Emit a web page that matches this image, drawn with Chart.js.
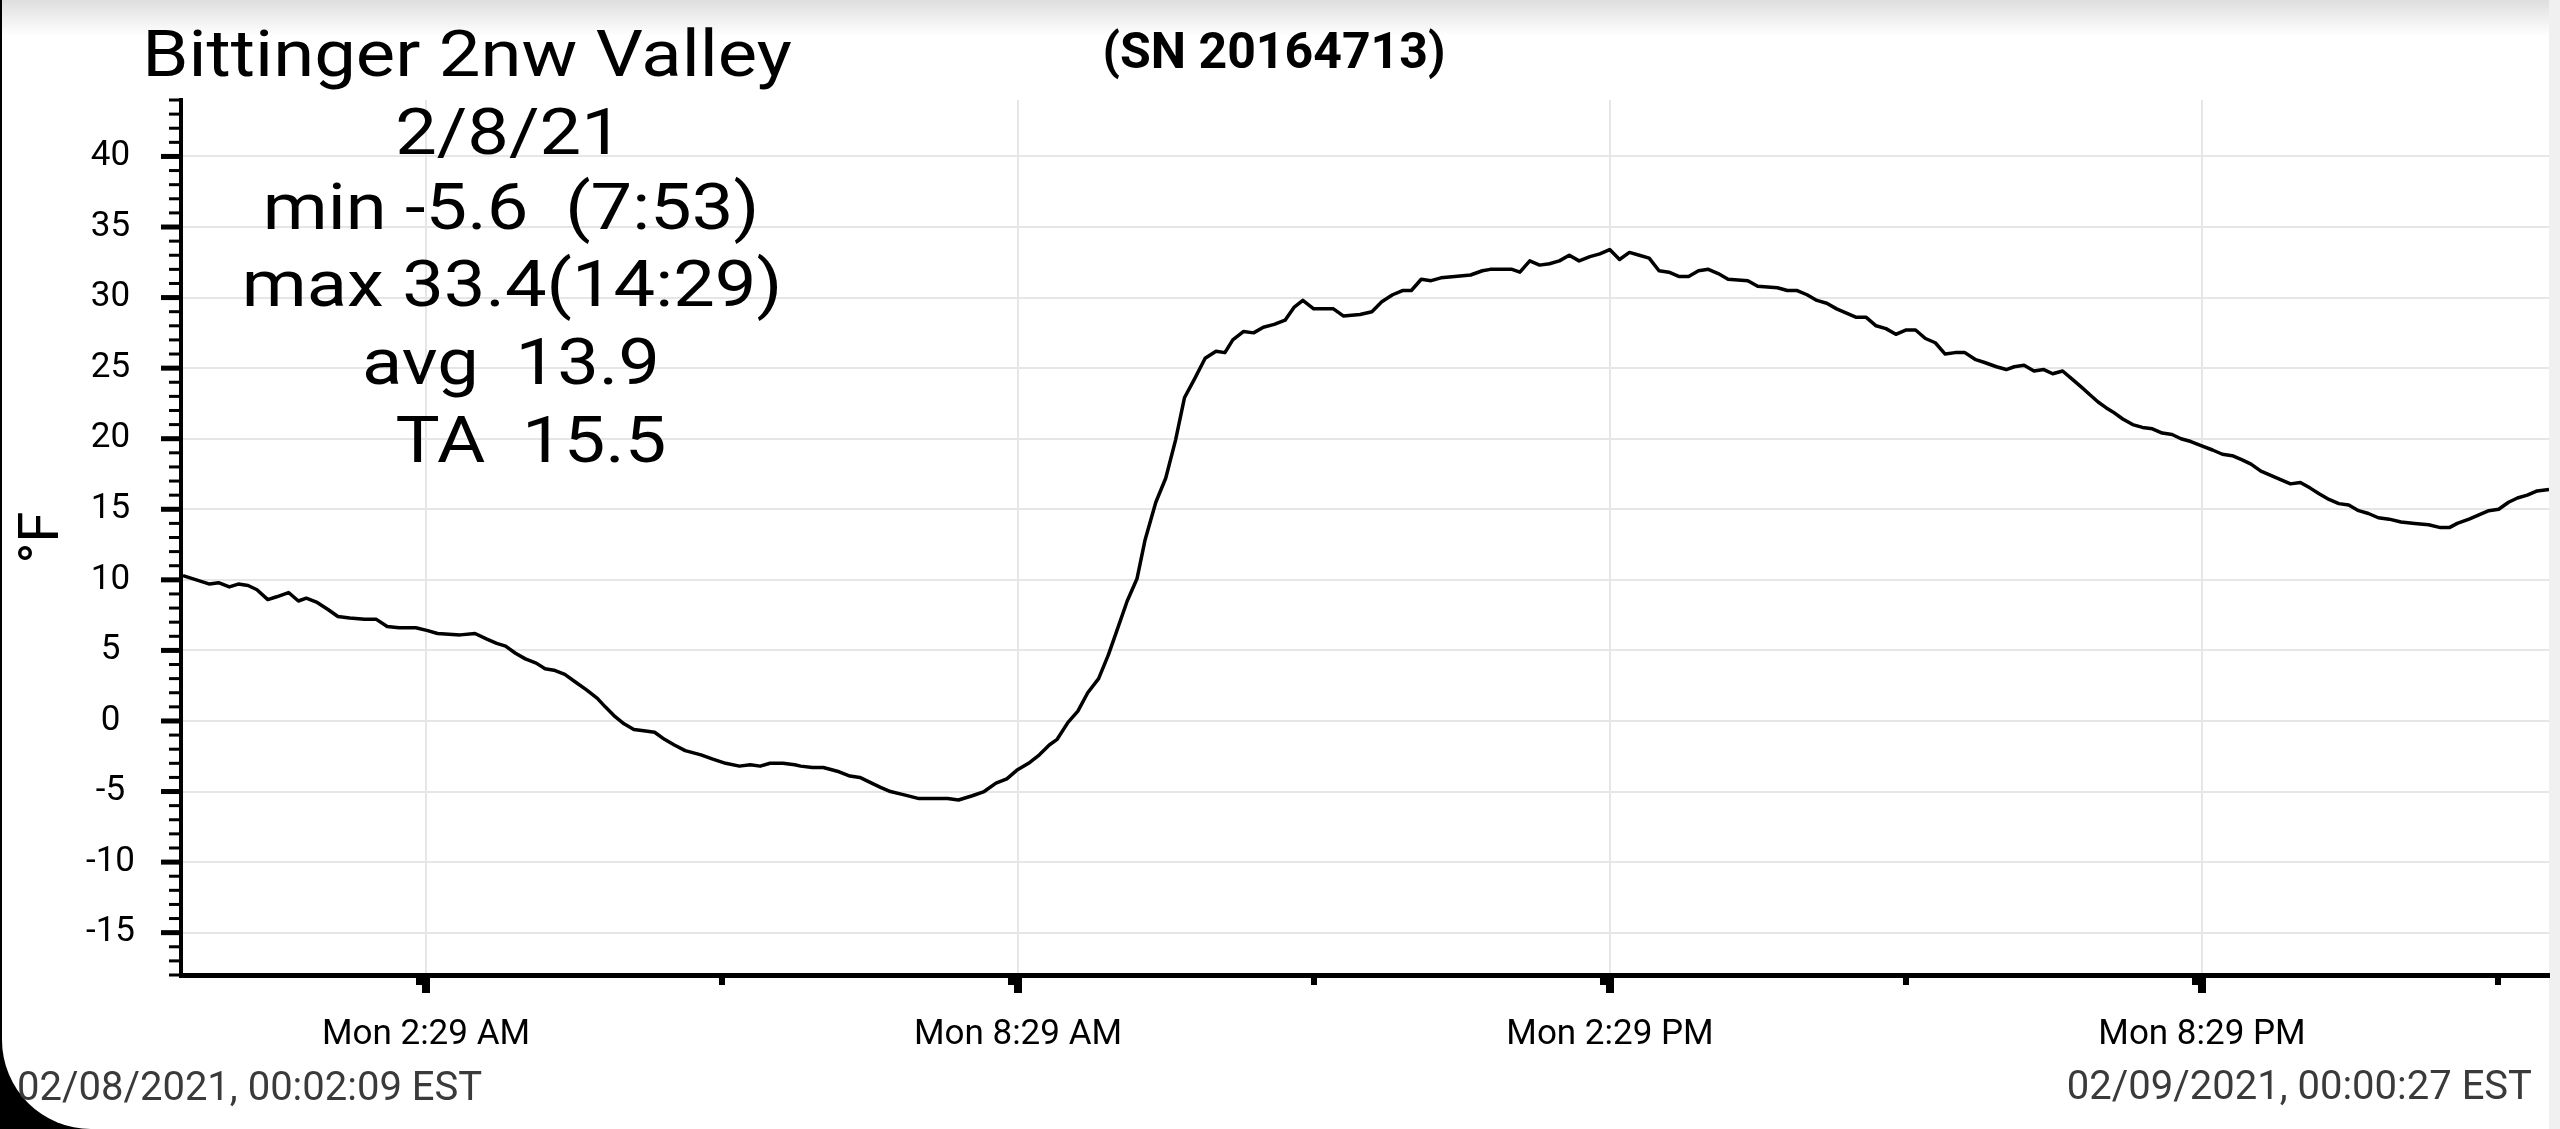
<!DOCTYPE html>
<html>
<head>
<meta charset="utf-8">
<script src="https://cdn.jsdelivr.net/npm/chart.js@4.4.1/dist/chart.umd.min.js"></script>
<style>
  html, body { margin:0; padding:0; }
  body { width:2560px; height:1129px; overflow:hidden; background:#000; position:relative; font-family:Roboto, sans-serif; }
  #panel { position:absolute; left:2px; top:0; width:2558px; height:1129px; background:#fff; border-bottom-left-radius:89px; }
  #shade { position:absolute; left:2px; top:0; width:2558px; height:36px; background:linear-gradient(#dedede, #ffffff); }
  #strip { position:absolute; left:2549px; top:0; width:11px; height:1129px; background:#f0f0f0; }
  canvas { position:absolute; left:0; top:0; }
  .t { position:absolute; white-space:pre; line-height:1; color:#000; font-family:Roboto, sans-serif; }
</style>
</head>
<body>
<div id="panel"></div>
<div id="shade"></div>
<div id="strip"></div>
<canvas id="c" width="2560" height="1129"></canvas>
<div id="texts"></div>
<script>
// ---- data (hours since midnight, Mon 2/8/21; temperature °F) ----
const hours = [0.02,0.29,0.38,0.49,0.58,0.68,0.77,0.88,0.97,1.09,1.19,1.27,1.38,1.49,1.59,1.71,1.86,1.98,2.09,2.21,2.38,2.50,2.60,2.83,2.98,3.10,3.20,3.29,3.39,3.49,3.60,3.69,3.78,3.89,3.99,4.11,4.22,4.30,4.40,4.49,4.59,4.69,4.80,4.90,5.00,5.11,5.27,5.39,5.52,5.66,5.77,5.87,5.97,6.10,6.22,
  6.28,6.40,6.51,6.67,6.78,6.88,7.00,7.09,7.19,7.31,7.48,7.60,7.77,7.88,8.02,8.14,8.26,8.37,8.47,8.59,8.70,8.80,8.88,8.99,9.09,9.19,9.30,9.40,9.48,9.59,9.69,9.77,9.88,9.98,10.08,10.17,10.27,10.38,10.49,10.58,10.66,10.77,10.87,10.97,11.08,11.19,11.28,11.37,11.48,11.57,11.68,11.78,11.95,12.07,12.17,12.28,12.38,12.47,
  12.57,12.67,12.77,12.91,13.07,13.19,13.27,13.49,13.57,13.67,13.77,13.87,13.97,14.07,14.17,14.28,14.38,14.48,14.58,14.68,14.78,14.88,14.98,15.08,15.18,15.28,15.38,15.48,15.58,15.68,15.88,15.98,16.18,16.28,16.38,16.48,16.58,16.68,16.78,16.88,16.98,17.08,17.18,17.28,17.38,17.48,17.58,17.68,17.78,17.88,17.98,
  18.08,18.19,18.28,18.40,18.50,18.58,18.68,18.78,18.88,18.97,19.07,19.17,19.27,19.35,19.43,19.51,19.58,19.68,19.78,19.88,19.98,20.08,20.18,20.27,20.37,20.48,20.59,20.69,20.79,20.89,20.98,21.08,21.18,21.28,21.38,21.48,21.58,21.67,21.77,21.87,21.97,22.07,22.17,22.27,22.38,22.50,22.64,22.78,22.90,22.99,23.07,23.19,23.29,23.39,23.49,23.59,23.68,23.78,23.88,24.00];
const tempF = [10.3,9.7,9.8,9.5,9.7,9.6,9.3,8.6,8.8,9.1,8.5,8.7,8.4,7.9,7.4,7.3,7.2,7.2,6.7,6.6,6.6,6.4,6.2,6.1,6.2,5.8,5.5,5.3,4.8,4.4,4.1,3.7,3.6,3.3,2.8,2.2,1.6,1.0,0.3,-0.2,-0.6,-0.7,-0.8,-1.3,-1.7,-2.1,-2.4,-2.7,-3.0,-3.2,-3.1,-3.2,-3.0,-3.0,-3.1,
  -3.2,-3.3,-3.3,-3.6,-3.9,-4.0,-4.4,-4.7,-5.0,-5.2,-5.5,-5.5,-5.5,-5.6,-5.3,-5.0,-4.4,-4.1,-3.5,-3.0,-2.4,-1.7,-1.3,-0.1,0.7,2.0,3.0,4.7,6.3,8.5,10.1,12.8,15.5,17.2,19.9,22.9,24.2,25.7,26.2,26.1,27.0,27.6,27.5,27.9,28.1,28.4,29.3,29.8,29.2,29.2,29.2,28.7,28.8,29.0,29.7,30.2,30.5,30.5,
  31.3,31.2,31.4,31.5,31.6,31.9,32.0,32.0,31.8,32.6,32.3,32.4,32.6,33.0,32.6,32.9,33.1,33.4,32.7,33.2,33.0,32.8,31.9,31.8,31.5,31.5,31.9,32.0,31.7,31.3,31.2,30.8,30.7,30.5,30.5,30.2,29.8,29.6,29.2,28.9,28.6,28.6,28.0,27.8,27.4,27.7,27.7,27.1,26.8,26.0,26.1,
  26.1,25.6,25.4,25.1,24.9,25.1,25.2,24.8,24.9,24.6,24.8,24.2,23.6,23.1,22.6,22.2,21.9,21.4,21.0,20.8,20.7,20.4,20.3,20.0,19.8,19.5,19.2,18.9,18.8,18.5,18.2,17.7,17.4,17.1,16.8,16.9,16.5,16.1,15.7,15.4,15.3,14.9,14.7,14.4,14.3,14.1,14.0,13.9,13.7,13.7,14.0,14.3,14.6,14.9,15.0,15.5,15.8,16.0,16.3,16.4];

// ---- axis ticks and labels ----
const xTickHours  = [2.483, 8.483, 14.483, 20.483];
const xTickLabels = ['Mon 2:29 AM', 'Mon 8:29 AM', 'Mon 2:29 PM', 'Mon 8:29 PM'];
const xMinorHours = [5.483, 11.483, 17.483, 23.483];
const yTicks = [-15, -10, -5, 0, 5, 10, 15, 20, 25, 30, 35, 40];

// ---- annotation text ----
const titleText = 'Bittinger 2nw Valley';
const infoLines = ['2/8/21', 'min -5.6  (7:53)', 'max 33.4(14:29)', 'avg  13.9', 'TA  15.5'];
const serialText = '(SN 20164713)';
const startStamp = '02/08/2021, 00:02:09 EST';
const endStamp = '02/09/2021, 00:00:27 EST';

// place text by baseline (Roboto, line-height 1 => baseline at top + 0.842*size)
const texts = document.getElementById('texts');
function addText(str, opt) {
  const d = document.createElement('div');
  d.className = 't';
  d.textContent = str;
  d.style.fontSize = opt.size + 'px';
  if (opt.bold) d.style.fontWeight = '700';
  if (opt.color) d.style.color = opt.color;
  d.style.top = (opt.baseline - 0.842 * opt.size) + 'px';
  if (opt.center !== undefined) {
    d.style.left = opt.center + 'px';
    d.style.transform = 'translateX(-50%) scaleX(' + (opt.sx || 1) + ')';
  } else if (opt.right !== undefined) {
    d.style.right = opt.right + 'px';
  } else {
    d.style.left = opt.left + 'px';
  }
  texts.appendChild(d);
}
addText(titleText, {size:64, center:467, baseline:77, sx:1.16});
const infoBase = [155, 230, 307, 385, 463];
const infoCenter = [509, 511, 512, 511, 531];
infoLines.forEach((s, i) => addText(s, {size:65, center:infoCenter[i], baseline:infoBase[i], sx:1.14}));
addText(serialText, {size:50, bold:true, center:1274, baseline:68});
addText(startStamp, {size:40, left:17, baseline:1101, color:'#3a3a3a'});
addText(endStamp, {size:40, right:28, baseline:1100, color:'#3a3a3a'});

// ---- custom tick marks drawn from the chart's scales ----
const tickPlugin = {
  id: 'tickMarks',
  afterDraw(chart) {
    const {ctx, chartArea: a} = chart;
    const x = chart.scales.x, y = chart.scales.y;
    ctx.save();
    ctx.fillStyle = '#000';
    for (let v = Math.ceil(y.min); v <= Math.floor(y.max); v++) {
      const py = y.getPixelForValue(v);
      if (v % 5 === 0) ctx.fillRect(a.left - 2 - 18, py - 2.5, 18, 5);
      else ctx.fillRect(a.left - 2 - 10, py - 1.5, 10, 3);
    }
    xTickHours.forEach(h => {
      const px = x.getPixelForValue(h);
      ctx.fillRect(px - 4, a.bottom + 2, 8, 16);
      ctx.fillRect(px - 10, a.bottom + 2, 6, 8);
    });
    xMinorHours.forEach(h => {
      const px = x.getPixelForValue(h);
      ctx.fillRect(px - 3, a.bottom + 2, 6, 8);
    });
    ctx.restore();
  }
};

new Chart(document.getElementById('c'), {
  type: 'line',
  data: {
    datasets: [{
      data: hours.map((h, i) => ({x: h, y: tempF[i]})),
      borderColor: '#000',
      borderWidth: 3.5,
      pointRadius: 0,
      tension: 0,
      fill: false,
      borderJoinStyle: 'round'
    }]
  },
  options: {
    responsive: false,
    animation: false,
    devicePixelRatio: 1,
    layout: { padding: { left: 2, right: 11, top: 100, bottom: 0 } },
    plugins: { legend: { display: false }, tooltip: { enabled: false }, title: { display: false } },
    scales: {
      x: {
        type: 'linear', min: 0, max: 24,
        afterBuildTicks: s => { s.ticks = xTickHours.map(v => ({value: v})); },
        afterFit: s => { s.height = 154; },
        ticks: {
          autoSkip: false, maxRotation: 0, padding: 39, color: '#000',
          font: { family: 'Roboto', size: 35 },
          callback: (v, i) => xTickLabels[i]
        },
        grid: { color: '#e6e6e6', lineWidth: 2, drawTicks: false },
        border: { color: '#000', width: 5 }
      },
      y: {
        min: -18, max: 44,
        afterBuildTicks: s => { s.ticks = yTicks.map(v => ({value: v})); },
        afterFit: s => { s.width = 179; },
        ticks: {
          padding: 46, crossAlign: 'center', color: '#000',
          font: { family: 'Roboto', size: 35 }
        },
        grid: { color: '#e6e6e6', lineWidth: 2, drawTicks: false },
        border: { color: '#000', width: 4 },
        title: {
          display: true, text: '°F', color: '#000',
          font: { family: 'Roboto', size: 56 },
          padding: { top: 8, bottom: 0 }
        }
      }
    }
  },
  plugins: [tickPlugin]
});
</script>
</body>
</html>
